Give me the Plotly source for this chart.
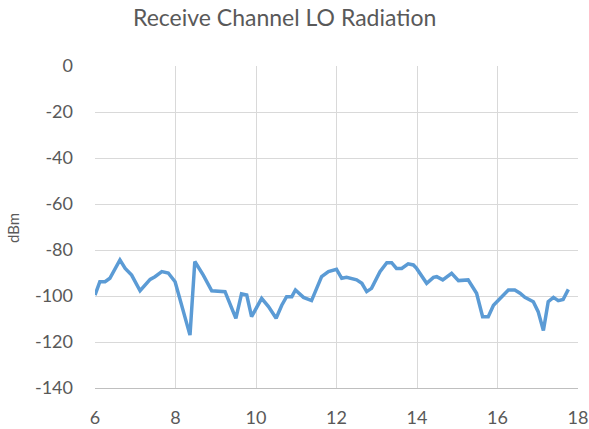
import plotly.graph_objects as go

freq_ghz = [6.0, 6.12, 6.25, 6.37, 6.62, 6.75, 6.91, 7.12, 7.37, 7.49, 7.66, 7.82, 7.99,
            8.36, 8.48, 8.69, 8.90, 9.23, 9.50, 9.64, 9.77, 9.89, 10.14, 10.31, 10.5,
            10.64, 10.76, 10.89, 10.98, 11.18, 11.38, 11.63, 11.8, 12.0, 12.13, 12.25,
            12.5, 12.63, 12.75, 12.87, 13.08, 13.25, 13.37, 13.49, 13.62, 13.78, 13.91,
            13.99, 14.24, 14.41, 14.49, 14.64, 14.86, 15.03, 15.27, 15.48, 15.63, 15.77,
            15.9, 16.06, 16.27, 16.43, 16.56, 16.68, 16.89, 17.01, 17.14, 17.26, 17.39,
            17.51, 17.63, 17.76]
level_dbm = [-99.6, -93.8, -93.8, -92.3, -84.3, -88.0, -90.9, -97.7, -92.8, -91.6, -89.4, -90.0, -93.8,
             -117.0, -85.0, -90.9, -97.7, -98.1, -109.7, -99.1, -99.6, -109.0, -101.0, -104.6, -109.7,
             -104.0, -100.3, -100.3, -97.4, -100.6, -102.0, -91.6, -89.4, -88.4, -92.3, -91.9,
             -93.0, -94.5, -98.1, -96.7, -89.4, -85.5, -85.5, -88.0, -88.0, -86.0, -86.5,
             -88.0, -94.5, -91.9, -91.6, -93.0, -90.1, -93.3, -93.0, -98.8, -109.0, -109.0,
             -104.0, -101.0, -97.4, -97.4, -98.8, -100.6, -102.5, -106.8, -115.0, -102.5, -100.6,
             -102.0, -101.5, -97.1]

x_ticks = [6, 8, 10, 12, 14, 16, 18]
y_ticks = [0, -20, -40, -60, -80, -100, -120, -140]
title_text = "Receive Channel LO Radiation"
y_title = "dBm"

FONT = "Lato, 'Open Sans', sans-serif"
TXT = "#595959"
W, H = 589, 429

fig = go.Figure()
fig.add_trace(go.Scatter(
    x=freq_ghz, y=level_dbm, mode="lines",
    line=dict(color="#5B9BD5", width=3.5),
    showlegend=False, hoverinfo="skip",
))

fig.update_layout(
    width=W, height=H,
    margin=dict(l=95, r=11, t=66, b=41, autoexpand=False),
    paper_bgcolor="white", plot_bgcolor="white",
    font=dict(family=FONT, color=TXT, size=18),
)
fig.add_annotation(text=title_text, xref="paper", yref="paper",
                   x=(284 - 95) / (578 - 95), y=1 + (66 - 17) / (388 - 66),
                   xanchor="center", yanchor="middle", showarrow=False,
                   font=dict(family=FONT, size=23, color=TXT))
fig.add_annotation(text=y_title, xref="paper", yref="paper",
                   x=-(95 - 13) / (578 - 95), y=(388 - 228) / (388 - 66),
                   xanchor="center", yanchor="middle", textangle=-90, showarrow=False,
                   font=dict(family=FONT, size=15, color=TXT))

fig.update_xaxes(
    range=[6, 18], tickvals=x_ticks, ticktext=[str(v) for v in x_ticks],
    showgrid=True, gridcolor="#D9D9D9", gridwidth=1,
    zeroline=False, showline=True, linecolor="#BFBFBF", linewidth=1,
    ticks="", ticklabelstandoff=13, automargin=False,
    tickfont=dict(family=FONT, size=18, color=TXT),
)
fig.update_yaxes(
    range=[-140, 0], tickvals=y_ticks, ticktext=[str(v) for v in y_ticks],
    showgrid=True, gridcolor="#D9D9D9", gridwidth=1,
    zeroline=False, showline=False, ticks="", ticklabelstandoff=21, automargin=False,
    tickfont=dict(family=FONT, size=18, color=TXT),
)

fig.write_html("out.html", config={"displayModeBar": False},
               post_script="document.body.style.margin='0px';")
